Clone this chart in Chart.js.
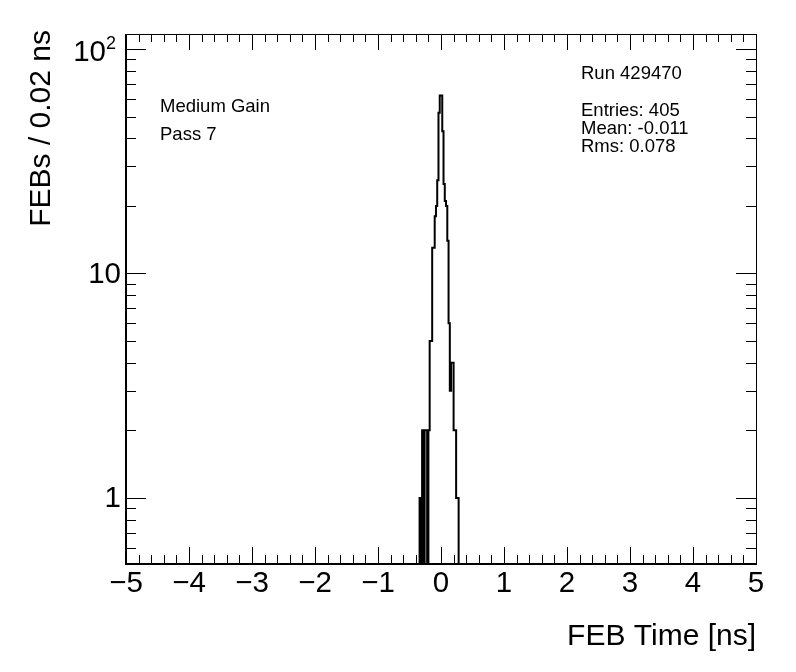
<!DOCTYPE html>
<html>
<head>
<meta charset="utf-8">
<script src="https://cdn.jsdelivr.net/npm/chart.js@4.4.1/dist/chart.umd.min.js"></script>
<style>
  html, body { margin: 0; padding: 0; background: #fff; }
  #wrap { width: 796px; height: 672px; }
</style>
</head>
<body>
<div id="wrap"><canvas id="febChart" width="796" height="672"></canvas></div>
<script>
// --- DATA ---
const binLowEdges = [-0.32, -0.30, -0.28, -0.26, -0.24, -0.22, -0.20, -0.18, -0.16, -0.14,
                     -0.12, -0.10, -0.08, -0.06, -0.04, -0.02, 0.00, 0.02, 0.04, 0.06,
                      0.08, 0.10, 0.12, 0.14, 0.16, 0.18, 0.20, 0.22, 0.24, 0.26, 0.28];
const febCounts   = [1, 0, 2, 0, 2, 2, 0, 2, 5, 5,
                     13, 13, 18, 20, 26, 52, 62, 62, 43, 25,
                     21, 20, 14, 6, 3, 4, 4, 2, 2, 1, 1];
const binWidth = 0.02;

const xTickLabels = [-5, -4, -3, -2, -1, 0, 1, 2, 3, 4, 5];
const yMajorTicks = [1, 10, 100];
const yMinorTicks = [0.6, 0.7, 0.8, 0.9, 2, 3, 4, 5, 6, 7, 8, 9, 20, 30, 40, 50, 60, 70, 80, 90];

const infoLeft  = ["Medium Gain", "Pass 7"];
const runLabel  = "Run 429470";
const statLines = ["Entries: 405", "Mean: -0.011", "Rms: 0.078"];

const X_MIN = -5, X_MAX = 5;
const Y_MIN = 0.513, Y_MAX = 116.6;
const FLOOR = 0.1; // empty bins sit below the axis and get clipped

// --- BUILD STEP POINTS ---
const histPoints = [{ x: binLowEdges[0] - binWidth, y: FLOOR }];
binLowEdges.forEach((edge, i) => {
    histPoints.push({ x: edge, y: febCounts[i] > 0 ? febCounts[i] : FLOOR });
});
histPoints.push({ x: binLowEdges[binLowEdges.length - 1] + binWidth, y: FLOOR });

const FONT = '"Liberation Sans", Arial, Helvetica, sans-serif';

// --- ROOT STYLE FRAME / TICKS / TEXT ---
const rootFrame = {
    id: 'rootFrame',
    afterDraw(chart) {
        const ctx = chart.ctx;
        const xs = chart.scales.x, ys = chart.scales.y;
        const a = chart.chartArea;
        ctx.save();
        ctx.strokeStyle = '#000';
        ctx.fillStyle = '#000';

        // frame
        ctx.lineWidth = 1;
        ctx.strokeRect(a.left + 0.5, a.top + 0.5, a.right - a.left, a.bottom - a.top);
        ctx.lineWidth = 2;
        ctx.beginPath();
        ctx.moveTo(a.left, a.top); ctx.lineTo(a.left, a.bottom + 1); ctx.lineTo(a.right + 1, a.bottom + 1);
        ctx.stroke();

        // x ticks (bottom + top), minor every 0.2
        ctx.lineWidth = 1;
        ctx.beginPath();
        for (let k = 0; k <= 50; k++) {
            const v = X_MIN + k * 0.2;
            const px = Math.round(xs.getPixelForValue(v)) + 0.5;
            const len = (k % 5 === 0) ? 16 : 8;
            ctx.moveTo(px, a.bottom); ctx.lineTo(px, a.bottom - len);
            ctx.moveTo(px, a.top); ctx.lineTo(px, a.top + len);
        }
        // y ticks (left + right)
        yMajorTicks.concat(yMinorTicks).forEach(v => {
            const py = Math.round(ys.getPixelForValue(v)) + 0.5;
            const len = yMajorTicks.includes(v) ? 20 : 10;
            ctx.moveTo(a.left, py); ctx.lineTo(a.left + len, py);
            ctx.moveTo(a.right, py); ctx.lineTo(a.right - len, py);
        });
        ctx.stroke();

        // x tick labels
        ctx.font = '29.5px ' + FONT;
        ctx.textAlign = 'center';
        ctx.textBaseline = 'middle';
        xTickLabels.forEach(v => {
            const txt = v < 0 ? '\u2212' + Math.abs(v) : String(v);
            ctx.fillText(txt, xs.getPixelForValue(v), a.bottom + 21);
        });

        // y tick labels
        ctx.textAlign = 'right';
        ctx.fillText('1', a.left - 5, ys.getPixelForValue(1) + 1);
        ctx.fillText('10', a.left - 5, ys.getPixelForValue(10) + 1);
        const p100 = ys.getPixelForValue(100);
        ctx.font = '18px ' + FONT;
        ctx.textAlign = 'left';
        ctx.fillText('2', a.left - 20, p100 - 5);
        ctx.font = '29.5px ' + FONT;
        ctx.textAlign = 'right';
        ctx.fillText('10', a.left - 20, p100 + 4);

        // axis titles
        ctx.font = '30px ' + FONT;
        ctx.textAlign = 'right';
        ctx.fillText('FEB Time [ns]', a.right, 637);
        ctx.save();
        ctx.translate(42, 30);
        ctx.rotate(-Math.PI / 2);
        ctx.fillText('FEBs / 0.02 ns', 0, 0);
        ctx.restore();

        // annotations
        ctx.font = '18.5px ' + FONT;
        ctx.textAlign = 'left';
        ctx.fillText(infoLeft[0], 160, 107);
        ctx.fillText(infoLeft[1], 160, 135);
        ctx.fillText(runLabel, 581, 74);
        statLines.forEach((s, i) => ctx.fillText(s, 581, 111 + i * 18));

        ctx.restore();
    }
};

new Chart(document.getElementById('febChart'), {
    type: 'line',
    data: {
        datasets: [{
            data: histPoints,
            borderColor: '#000',
            borderWidth: 2,
            pointRadius: 0,
            fill: false,
            stepped: 'after',
            tension: 0
        }]
    },
    options: {
        responsive: false,
        animation: false,
        devicePixelRatio: 1,
        layout: { padding: { left: 126, top: 34, right: 40, bottom: 109 } },
        plugins: { legend: { display: false }, tooltip: { enabled: false } },
        scales: {
            x: { type: 'linear', min: X_MIN, max: X_MAX, display: false },
            y: { type: 'logarithmic', min: Y_MIN, max: Y_MAX, display: false }
        }
    },
    plugins: [rootFrame]
});
</script>
</body>
</html>
